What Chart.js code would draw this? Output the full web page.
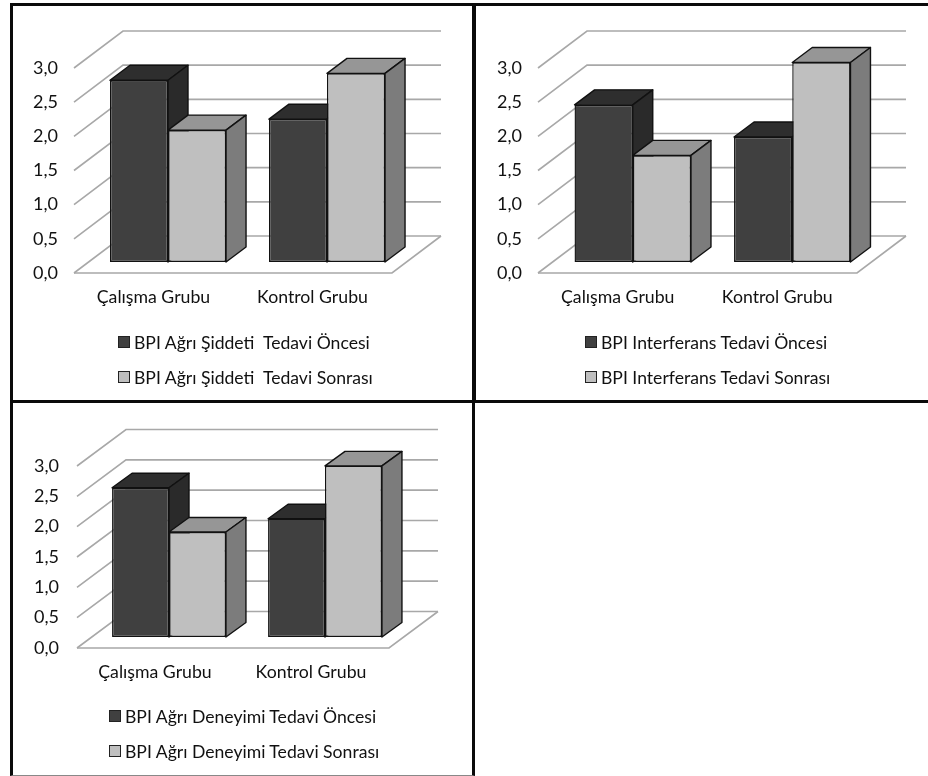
<!DOCTYPE html>
<html>
<head>
<meta charset="utf-8">
<script src="https://cdn.jsdelivr.net/npm/chart.js@4"></script>
<style>
  html, body { margin: 0; padding: 0; background: #fff; }
  body { position: relative; width: 928px; height: 776px; overflow: hidden; font-family: Lato, sans-serif; }
  canvas { position: absolute; filter: blur(0.4px); }
  .frame { position: absolute; border: 0 solid #0a0a0a; box-sizing: border-box; }
  .legend-row { position: absolute; display: flex; align-items: center; white-space: pre; font-size: 17.6px; color: #111; filter: blur(0.3px); }
  .legend-box { width: 10px; height: 10px; border: 1px solid #222; margin-right: 4px; }
</style>
</head>
<body>
<div class="frame" style="left:10px;top:3px;width:465px;height:400px;border-width:3px"></div>
<div class="frame" style="left:473px;top:3px;width:455px;height:400px;border-width:3px 0 3px 3px"></div>
<div class="frame" style="left:10px;top:400px;width:465px;height:376px;border-width:3px;border-bottom:1px solid #888"></div>
<script>
const categories = ['Çalışma Grubu', 'Kontrol Grubu'];
const tickStep = 0.5;
const tickMax = 3;

const severityBefore = [2.66, 2.09];
const severityAfter = [1.93, 2.76];
const interferenceBefore = [2.3, 1.83];
const interferenceAfter = [1.56, 2.92];
const experienceBefore = [2.46, 1.95];
const experienceAfter = [1.73, 2.82];

const darkFaces = { front: '#404040', top: '#2e2e2e', side: '#2a2a2a' };
const lightFaces = { front: '#bfbfbf', top: '#969696', side: '#7c7c7c' };
const gridColor = '#a8a8a8';

function drawBarDepth(ctx, bar, faces, opts) {
  const { x, y, base, width } = bar.getProps(['x', 'y', 'base', 'width'], true);
  const l = x - width / 2;
  const r = x + width / 2;
  ctx.fillStyle = faces.top;
  ctx.beginPath();
  ctx.moveTo(l, y);
  ctx.lineTo(l + opts.barDepthX, y + opts.barDepthY);
  ctx.lineTo(r + opts.barDepthX, y + opts.barDepthY);
  ctx.lineTo(r, y);
  ctx.closePath();
  ctx.fill();
  ctx.stroke();
  ctx.fillStyle = faces.side;
  ctx.beginPath();
  ctx.moveTo(r, y);
  ctx.lineTo(r + opts.barDepthX, y + opts.barDepthY);
  ctx.lineTo(r + opts.barDepthX, base + opts.barDepthY);
  ctx.lineTo(r, base);
  ctx.closePath();
  ctx.fill();
  ctx.stroke();
}

// 3D look: bars are shifted back onto a plane inside the floor, walls sit at the far end
const depth3d = {
  id: 'depth3d',
  beforeDatasetsDraw(chart, args, opts) {
    const ctx = chart.ctx;
    const { left, right, bottom } = chart.chartArea;
    const y = chart.scales.y;
    ctx.save();
    ctx.strokeStyle = gridColor;
    ctx.lineWidth = 1.6;
    y.ticks.forEach((tick, i) => {
      const py = y.getPixelForTick(i);
      ctx.beginPath();
      ctx.moveTo(left, py);
      ctx.lineTo(left + opts.wallX, py + opts.wallY);
      ctx.lineTo(right + opts.wallX, py + opts.wallY);
      ctx.stroke();
    });
    ctx.beginPath();
    ctx.moveTo(left, bottom);
    ctx.lineTo(right, bottom);
    ctx.lineTo(right + opts.wallX, bottom + opts.wallY);
    ctx.stroke();

    // side and top faces go in left to right, fronts are drawn after by the library
    ctx.translate(opts.barX, opts.barY);
    ctx.lineWidth = 1.4;
    ctx.lineJoin = 'round';
    ctx.strokeStyle = '#111';
    categories.forEach((c, i) => {
      chart.data.datasets.forEach((ds, d) => {
        drawBarDepth(ctx, chart.getDatasetMeta(d).data[i], ds.faces, opts);
      });
    });
    ctx.restore();
  },
  beforeDatasetDraw(chart, args, opts) {
    chart.ctx.save();
    chart.ctx.translate(opts.barX, opts.barY);
  },
  afterDatasetDraw(chart) {
    chart.ctx.restore();
  }
};

function addLegend(chart, pageX, rowYs) {
  chart.data.datasets.forEach((ds, i) => {
    const row = document.createElement('div');
    row.className = 'legend-row';
    row.style.left = pageX + 'px';
    row.style.top = (rowYs[i] - 12) + 'px';
    row.style.height = '24px';
    const box = document.createElement('span');
    box.className = 'legend-box';
    box.style.backgroundColor = ds.backgroundColor;
    const label = document.createElement('span');
    label.textContent = ds.label;
    row.appendChild(box);
    row.appendChild(label);
    document.body.appendChild(row);
  });
}

function makeChart(p) {
  const canvas = document.createElement('canvas');
  canvas.width = p.w;
  canvas.height = p.h;
  canvas.style.left = p.x + 'px';
  canvas.style.top = p.y + 'px';
  document.body.appendChild(canvas);

  const chart = new Chart(canvas, {
    type: 'bar',
    plugins: [depth3d],
    data: {
      labels: categories,
      datasets: [
        { label: p.labels[0], data: p.before, backgroundColor: darkFaces.front, faces: darkFaces },
        { label: p.labels[1], data: p.after, backgroundColor: lightFaces.front, faces: lightFaces }
      ].map(ds => ({ ...ds, borderColor: '#111', borderWidth: 1.4, borderSkipped: false, clip: false, categoryPercentage: 0.73, barPercentage: 1 }))
    },
    options: {
      responsive: false,
      animation: false,
      layout: { padding: { left: 0, top: p.top - p.y, right: p.x + p.w - p.right, bottom: 0 } },
      plugins: {
        legend: { display: false },
        tooltip: { enabled: false },
        depth3d: p.depth
      },
      scales: {
        x: {
          grid: { display: false, drawTicks: false },
          border: { display: false },
          ticks: { color: '#111', font: { family: 'Lato', size: 17.7 }, padding: 14, maxRotation: 0 },
          afterFit: s => { s.height = p.y + p.h - p.bottom; }
        },
        y: {
          min: 0,
          max: tickMax,
          grid: { display: false, drawTicks: false },
          border: { display: false },
          ticks: {
            stepSize: tickStep,
            color: '#111',
            font: { family: 'Lato', size: 18 },
            padding: p.tickPad,
            callback: v => v.toFixed(1).replace('.', ',')
          },
          afterFit: s => { s.width = p.left - p.x; }
        }
      }
    }
  });
  addLegend(chart, p.legendX, p.legendYs);
  return chart;
}

makeChart({
  x: 14, y: 6, w: 456, h: 394,
  left: 74, right: 392, top: 68, bottom: 273, tickPad: 16,
  depth: { wallX: 49, wallY: -37, barX: 14.5, barY: -11, barDepthX: 20, barDepthY: -15 },
  before: severityBefore, after: severityAfter,
  labels: ['BPI Ağrı Şiddeti  Tedavi Öncesi', 'BPI Ağrı Şiddeti  Tedavi Sonrası'],
  legendX: 118, legendYs: [342, 377]
});

makeChart({
  x: 477, y: 6, w: 451, h: 394,
  left: 538, right: 857, top: 68, bottom: 273, tickPad: 16,
  depth: { wallX: 49, wallY: -37, barX: 15, barY: -11, barDepthX: 20, barDepthY: -15 },
  before: interferenceBefore, after: interferenceAfter,
  labels: ['BPI Interferans Tedavi Öncesi', 'BPI Interferans Tedavi Sonrası'],
  legendX: 585, legendYs: [342, 377]
});

makeChart({
  x: 14, y: 404, w: 456, h: 370,
  left: 77, right: 389, top: 466, bottom: 648, tickPad: 18,
  depth: { wallX: 49, wallY: -36.5, barX: 14, barY: -11, barDepthX: 20, barDepthY: -14.5 },
  before: experienceBefore, after: experienceAfter,
  labels: ['BPI Ağrı Deneyimi Tedavi Öncesi', 'BPI Ağrı Deneyimi Tedavi Sonrası'],
  legendX: 109, legendYs: [716, 751]
});
</script>
</body>
</html>
